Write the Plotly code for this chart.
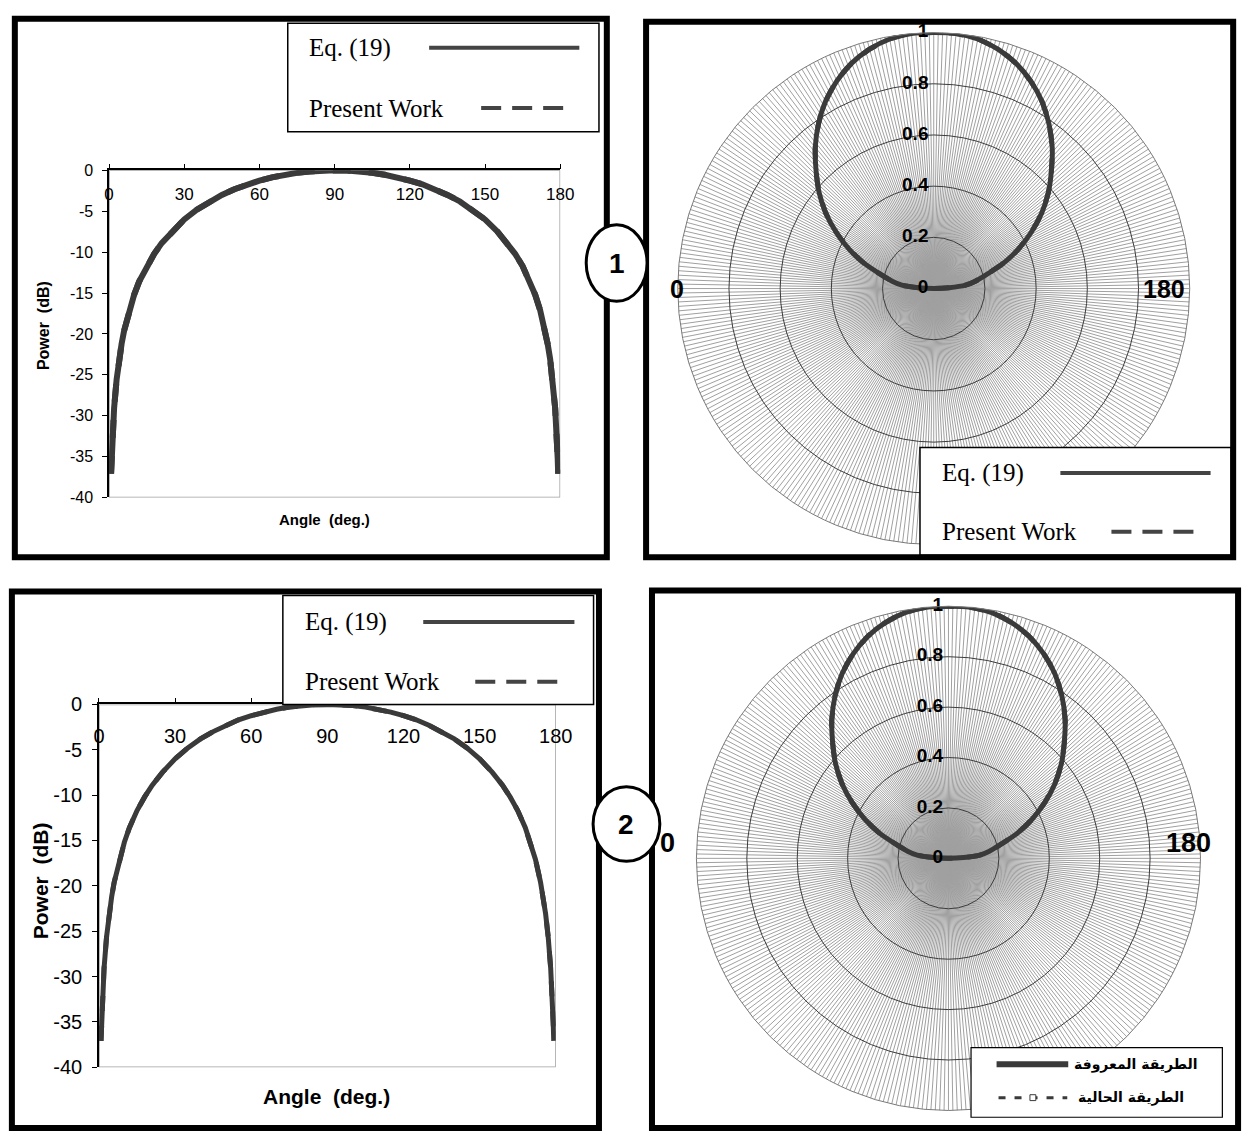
import plotly.graph_objects as go

W, H = 1259, 1142


def px(x):
    return x / W


def py(y):
    return 1 - y / H


# ---------------- data ----------------
angle_deg = [0.8, 1, 2, 3, 4, 5, 6, 8, 10, 12, 15, 18, 21, 25, 30, 35, 40, 45, 50, 55,
             60, 65, 70, 75, 80, 85, 90, 95, 100, 105, 110, 115, 120, 125, 130, 135,
             140, 145, 150, 155, 159, 162, 165, 168, 170, 172, 174, 175, 176, 177, 178,
             179, 179.2]
eq19_db = [-37.1, -35.2, -29.1, -25.6, -23.1, -21.2, -19.6, -17.1, -15.2, -13.6, -11.7,
           -10.2, -8.9, -7.5, -6.0, -4.8, -3.8, -3.0, -2.3, -1.7, -1.25, -0.85, -0.54,
           -0.30, -0.13, -0.03, 0.0, -0.03, -0.13, -0.30, -0.54, -0.85, -1.25, -1.7,
           -2.3, -3.0, -3.8, -4.8, -6.0, -7.5, -8.9, -10.2, -11.7, -13.6, -15.2, -17.1,
           -19.6, -21.2, -23.1, -25.6, -29.1, -35.2, -37.1]
present_db = [-37.1, -35.2, -29.1, -25.6, -23.1, -21.2, -19.6, -17.1, -15.2, -13.6, -11.7,
              -10.2, -8.9, -7.5, -6.0, -4.8, -3.8, -3.0, -2.3, -1.7, -1.25, -0.85, -0.54,
              -0.30, -0.13, -0.03, 0.0, -0.03, -0.13, -0.30, -0.54, -0.85, -1.25, -1.7,
              -2.3, -3.0, -3.8, -4.8, -6.0, -7.5, -8.9, -10.2, -11.7, -13.6, -15.2, -17.1,
              -19.6, -21.2, -23.1, -25.6, -29.1, -35.2, -37.1]
x_ticks = [0, 30, 60, 90, 120, 150, 180]
y_ticks = [0, -5, -10, -15, -20, -25, -30, -35, -40]
y_ticktext = ["0", "-5", "-10", "-15", "-20", "-25", "-30", "-35", "-40"]

pol_theta = [0, 3, 6, 10, 14, 20, 25, 30, 35, 40, 45, 50, 55, 60, 65, 70, 75, 80, 85, 90,
             95, 100, 105, 110, 115, 120, 125, 130, 135, 140, 145, 150, 155, 160, 166,
             170, 174, 177, 180]
pol_eq19 = [0.0, 0.06, 0.125, 0.165, 0.204, 0.29, 0.365, 0.44, 0.515, 0.585, 0.65, 0.72,
            0.785, 0.845, 0.895, 0.937, 0.968, 0.99, 1.0, 1.0, 1.0, 0.99, 0.968, 0.937,
            0.895, 0.845, 0.785, 0.72, 0.65, 0.585, 0.515, 0.44, 0.365, 0.29, 0.204,
            0.165, 0.125, 0.06, 0.0]
pol_present = [0.0, 0.06, 0.125, 0.165, 0.204, 0.29, 0.365, 0.44, 0.515, 0.585, 0.65, 0.72,
               0.785, 0.845, 0.895, 0.937, 0.968, 0.99, 1.0, 1.0, 1.0, 0.99, 0.968, 0.937,
               0.895, 0.845, 0.785, 0.72, 0.65, 0.585, 0.515, 0.44, 0.365, 0.29, 0.204,
               0.165, 0.125, 0.06, 0.0]
radial_ticks = [0, 0.2, 0.4, 0.6, 0.8, 1.0]
radial_text = ["0", "0.2", "0.4", "0.6", "0.8", "1"]
angle_labels = ["0", "180"]
spoke_angles = list(range(0, 360))

legend_en = ["Eq. (19)", "Present Work"]
legend_ar = ["الطريقة المعروفة", "الطريقة الحالية"]

LINE = "#3a3a3a"
SANS = "Liberation Sans"
SERIF = "Liberation Serif"
NB = "\u00a0"

fig = go.Figure()

# ---------------- cartesian panels ----------------
for xa, ya, lw in [("x", "y", 6), ("x2", "y2", 5)]:
    fig.add_trace(go.Scatter(x=angle_deg, y=present_db, xaxis=xa, yaxis=ya, mode="lines",
                             line=dict(color=LINE, width=lw, dash="dash"),
                             name=legend_en[1], showlegend=False))
    fig.add_trace(go.Scatter(x=angle_deg, y=eq19_db, xaxis=xa, yaxis=ya, mode="lines",
                             line=dict(color=LINE, width=lw),
                             name=legend_en[0], showlegend=False))

# ---------------- polar panels ----------------
for sub in ["polar", "polar2"]:
    fig.add_trace(go.Scatterpolar(theta=pol_theta, r=pol_present, subplot=sub, mode="lines",
                                  line=dict(color=LINE, width=5, dash="dash", shape="spline",
                                            smoothing=0.6),
                                  showlegend=False))
    fig.add_trace(go.Scatterpolar(theta=pol_theta, r=pol_eq19, subplot=sub, mode="lines",
                                  line=dict(color=LINE, width=5, shape="spline",
                                            smoothing=0.6),
                                  showlegend=False))
    fig.add_trace(go.Scatterpolar(theta=[90] * len(radial_ticks), r=radial_ticks,
                                  text=["<b>%s</b>%s" % (t, NB) for t in radial_text],
                                  subplot=sub, mode="text", textposition="middle left",
                                  textfont=dict(family=SANS, size=19, color="black"),
                                  cliponaxis=False, showlegend=False))


def polar_layout(xd, yd):
    return dict(
        domain=dict(x=xd, y=yd),
        bgcolor="white",
        radialaxis=dict(range=[0, 1], tickvals=radial_ticks[1:], showticklabels=False,
                        ticks="", showline=False, gridcolor="#3c3c3c", gridwidth=0.8),
        angularaxis=dict(rotation=180, direction="clockwise", tickmode="array",
                         tickvals=spoke_angles, showticklabels=False, ticks="",
                         gridcolor="#a0a0a0", gridwidth=0.6, showline=True,
                         linecolor="#7a7a7a", linewidth=1),
    )


def xaxis_layout(xd, anchor, fs, standoff):
    return dict(domain=xd, anchor=anchor, range=[0, 180], tickvals=x_ticks, side="top",
                ticks="outside", ticklen=5, tickcolor="black", ticklabelposition="inside",
                ticklabeloverflow="allow", ticklabelstandoff=standoff, showline=True,
                linecolor="black", linewidth=1.5, showgrid=False, zeroline=False,
                tickfont=dict(family=SANS, size=fs, color="black"))


def yaxis_layout(yd, anchor, fs):
    return dict(domain=yd, anchor=anchor, range=[-40, 0], tickmode="array",
                tickvals=y_ticks, ticktext=y_ticktext, ticks="outside",
                ticklen=5, tickcolor="black", showline=True, linecolor="black",
                linewidth=1.5, showgrid=False, zeroline=False, ticklabelstandoff=6,
                tickfont=dict(family=SANS, size=fs, color="black"))


shapes = []
annotations = []

# plot-area borders (gray right/bottom)
for xr, yr in [("x", "y"), ("x2", "y2")]:
    shapes.append(dict(type="rect", xref=xr, yref=yr, x0=0, x1=180, y0=-40, y1=0,
                       line=dict(color="#a0a0a0", width=1.5), layer="below"))

# axis titles
for x, y, fs, ang, txt in [
    (324, 518, 15, 0, "Angle" + NB * 2 + "(deg.)"),
    (39, 321, 16, -90, "Power" + NB * 2 + "(dB)"),
    (326, 1107, 21, 0, "Angle" + NB * 2 + "(deg.)"),
    (36, 887, 21, -90, "Power" + NB * 2 + "(dB)"),
]:
    annotations.append(dict(x=px(x), y=py(y), xref="paper", yref="paper", showarrow=False,
                            text="<b>%s</b>" % txt, textangle=ang, xanchor="center",
                            yanchor="middle",
                            font=dict(family=SANS, size=fs, color="black")))

# polar angle labels (0 on the left, 180 on the right)
for x, y, txt, fs in [(683, 283, angle_labels[0], 25), (1180, 283, angle_labels[1], 25),
                      (674, 848, angle_labels[0], 27), (1205, 848, angle_labels[1], 27)]:
    annotations.append(dict(x=px(x), y=py(y), xref="paper", yref="paper", showarrow=False,
                            text="<b>%s</b>" % txt, xanchor="center", yanchor="middle",
                            font=dict(family=SANS, size=fs, color="black")))

# English legends
for (bx0, by0, bx1, by1, tx, ty1, ty2, l1, l2) in [
    (287, 12.5, 604, 123, 307, 37.5, 99, (431, 584), (484, 571)),
    (931, 445, 1248, 555, 951, 471, 531, (1074, 1227), (1126, 1214)),
    (282, 596, 598.5, 707, 303, 623, 684, (425, 579), (478, 568)),
]:
    shapes.append(dict(type="rect", xref="paper", yref="paper", x0=px(bx0), x1=px(bx1),
                       y0=py(by1), y1=py(by0), fillcolor="white",
                       line=dict(color="black", width=1.5), layer="above"))
    shapes.append(dict(type="line", xref="paper", yref="paper", x0=px(l1[0]), x1=px(l1[1]),
                       y0=py(ty1), y1=py(ty1), line=dict(color="#444444", width=4)))
    shapes.append(dict(type="line", xref="paper", yref="paper", x0=px(l2[0]), x1=px(l2[1]),
                       y0=py(ty2), y1=py(ty2),
                       line=dict(color="#444444", width=4, dash="20px,11px")))
    for ty, txt in [(ty1, legend_en[0]), (ty2, legend_en[1])]:
        annotations.append(dict(x=px(tx), y=py(ty), xref="paper", yref="paper",
                                showarrow=False, text=txt, xanchor="left", yanchor="middle",
                                font=dict(family=SERIF, size=25, color="black")))

# Arabic legend (bottom-right)
shapes.append(dict(type="rect", xref="paper", yref="paper", x0=px(983), x1=px(1239),
                   y0=py(1128), y1=py(1057), fillcolor="white",
                   line=dict(color="black", width=1.2), layer="above"))
shapes.append(dict(type="line", xref="paper", yref="paper", x0=px(1009), x1=px(1082),
                   y0=py(1074), y1=py(1074), line=dict(color="#3a3a3a", width=6)))
shapes.append(dict(type="line", xref="paper", yref="paper", x0=px(1011), x1=px(1081),
                   y0=py(1108), y1=py(1108),
                   line=dict(color="#3a3a3a", width=3, dash="7px,9px")))
shapes.append(dict(type="rect", xref="paper", yref="paper", x0=px(1043), x1=px(1049),
                   y0=py(1111), y1=py(1105), fillcolor="white",
                   line=dict(color="#3a3a3a", width=1)))
for x, y, txt in [(1216, 1074, legend_ar[0]), (1202, 1108, legend_ar[1])]:
    annotations.append(dict(x=px(x), y=py(y), xref="paper", yref="paper", showarrow=False,
                            text="<b>%s</b>" % txt, xanchor="right", yanchor="middle",
                            font=dict(family="DejaVu Sans", size=14, color="black")))

# panel frames
for x0, y0, x1, y1 in [(9, 8, 612, 557), (652, 11, 1250, 557), (6, 592, 604, 1139),
                       (658, 591, 1255, 1139)]:
    shapes.append(dict(type="rect", xref="paper", yref="paper", x0=px(x0), x1=px(x1),
                       y0=py(y1), y1=py(y0), line=dict(color="black", width=6),
                       layer="above"))

# numbered circles
for x0, y0, x1, y1, lbl in [(591, 218, 653, 296, "1"), (598, 791, 666, 867, "2")]:
    shapes.append(dict(type="circle", xref="paper", yref="paper", x0=px(x0), x1=px(x1),
                       y0=py(y1), y1=py(y0), fillcolor="white",
                       line=dict(color="black", width=3), layer="above"))
    annotations.append(dict(x=px((x0 + x1) / 2), y=py((y0 + y1) / 2), xref="paper",
                            yref="paper", showarrow=False, text="<b>%s</b>" % lbl,
                            xanchor="center", yanchor="middle",
                            font=dict(family=SANS, size=28, color="black")))

fig.update_layout(
    width=W, height=H, margin=dict(l=0, r=0, t=0, b=0, pad=0),
    paper_bgcolor="white", plot_bgcolor="white", showlegend=False,
    xaxis=xaxis_layout([px(105), px(564.5)], "y", 17, 18),
    yaxis=yaxis_layout([py(496), py(162.5)], "x", 16),
    xaxis2=xaxis_layout([px(94.7), px(560)], "y2", 20, 26),
    yaxis2=yaxis_layout([py(1077), py(707)], "x2", 20),
    polar=polar_layout([px(684), px(1206)], [py(544), py(22)]),
    polar2=polar_layout([px(703), px(1217)], [py(1121), py(607)]),
    shapes=shapes, annotations=annotations,
)

fig.write_html(
    "out.html",
    config={"displayModeBar": False},
    post_script="document.body.style.margin='0';document.body.style.overflow='hidden';",
)
